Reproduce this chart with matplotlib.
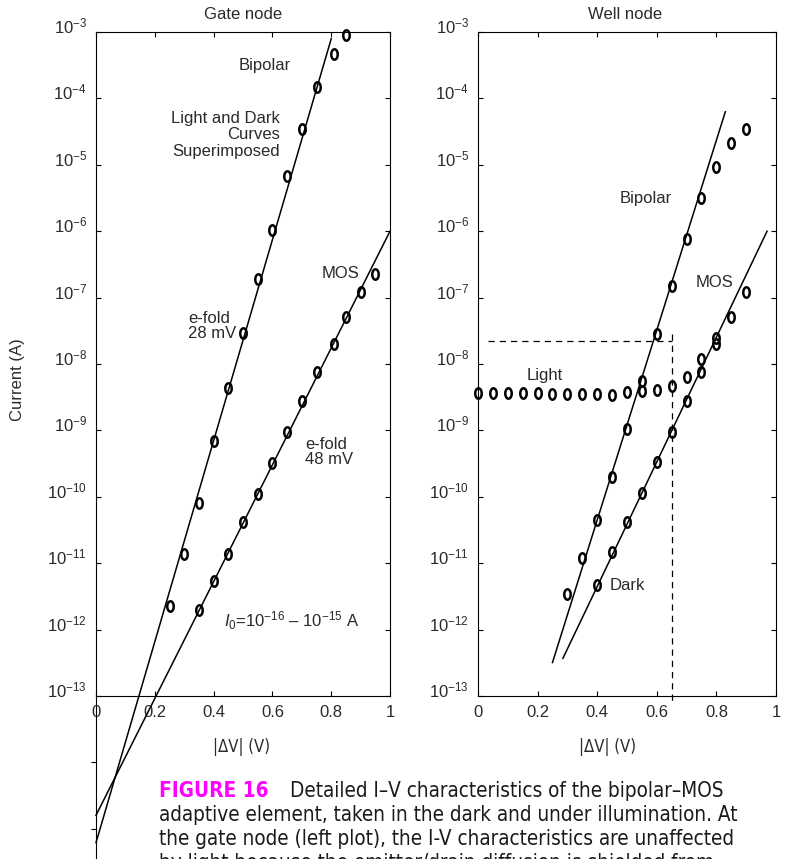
import numpy as np
import matplotlib
matplotlib.use('Agg')
import matplotlib.pyplot as plt
from matplotlib.transforms import ScaledTranslation

plt.rcParams['font.family'] = ['Liberation Sans', 'DejaVu Sans']
plt.rcParams['mathtext.fontset'] = 'custom'
plt.rcParams['mathtext.rm'] = 'Liberation Sans'
plt.rcParams['mathtext.it'] = 'Liberation Sans:italic'
plt.rcParams['mathtext.default'] = 'regular'

# Gate node (light and dark superimposed)
gate_bip_v = [0.25, 0.30, 0.35, 0.40, 0.45, 0.50, 0.55, 0.60, 0.65, 0.70, 0.75, 0.81, 0.85]
gate_bip_i = [2.3e-12, 1.4e-11, 8.1e-11, 6.9e-10, 4.4e-9, 2.9e-8, 1.9e-7, 1.05e-6,
              6.8e-6, 3.5e-5, 1.5e-4, 4.7e-4, 8.9e-4]
gate_mos_v = [0.35, 0.40, 0.45, 0.50, 0.55, 0.60, 0.65, 0.70, 0.75, 0.81, 0.85, 0.90, 0.95]
gate_mos_i = [2.0e-12, 5.4e-12, 1.4e-11, 4.2e-11, 1.1e-10, 3.2e-10, 9.5e-10, 2.8e-9,
              7.6e-9, 2.0e-8, 5.1e-8, 1.2e-7, 2.3e-7]
gate_bip_fit_v = [0.0, 0.80]
gate_bip_fit_i = [6.2e-16, 7.9e-4]
gate_mos_fit_v = [0.0, 1.0]
gate_mos_fit_i = [1.6e-15, 1.0e-6]

# Well node
well_bip_v = [0.30, 0.35, 0.40, 0.45, 0.50, 0.55, 0.60, 0.65, 0.70, 0.75, 0.80, 0.85, 0.90]
well_bip_i = [3.5e-12, 1.2e-11, 4.5e-11, 2.0e-10, 1.05e-9, 5.5e-9, 2.8e-8, 1.5e-7,
              7.6e-7, 3.2e-6, 9.3e-6, 2.1e-5, 3.5e-5]
well_mos_v = [0.40, 0.45, 0.50, 0.55, 0.60, 0.65, 0.70, 0.75, 0.80, 0.85, 0.90]
well_mos_i = [4.7e-12, 1.5e-11, 4.2e-11, 1.15e-10, 3.4e-10, 9.5e-10, 2.8e-9, 7.6e-9,
              2.0e-8, 5.2e-8, 1.2e-7]
well_light_v = [0.0, 0.05, 0.10, 0.15, 0.20, 0.25, 0.30, 0.35, 0.40, 0.45, 0.50, 0.55,
                0.60, 0.65, 0.70, 0.75, 0.80]
well_light_i = [3.7e-9, 3.7e-9, 3.7e-9, 3.7e-9, 3.7e-9, 3.5e-9, 3.5e-9, 3.6e-9, 3.5e-9,
                3.4e-9, 3.8e-9, 3.9e-9, 4.0e-9, 4.6e-9, 6.3e-9, 1.2e-8, 2.5e-8]
well_bip_fit_v = [0.25, 0.83]
well_bip_fit_i = [3.2e-13, 6.3e-5]
well_mos_fit_v = [0.285, 0.97]
well_mos_fit_i = [3.7e-13, 1.0e-6]
guide_v = 0.65
guide_i = 2.2e-8

decades = [10.0 ** k for k in range(-13, -2)]
decade_labels = [r'$10^{%d}$' % k for k in range(-13, -2)]
xticks = [0, 0.2, 0.4, 0.6, 0.8, 1]
xticklabels = ['0', '0.2', '0.4', '0.6', '0.8', '1']

txt = '#2a2a2a'
fs = 12
th = np.linspace(0, 2 * np.pi, 40)
oval = np.column_stack([0.62 * np.cos(th), np.sin(th)])
mk = dict(marker=oval, ms=7.5, mfc='none', mec='k', mew=1.8, ls='none', clip_on=False)

fig = plt.figure(figsize=(7.89, 8.59), dpi=100)
axL = fig.add_axes([0.1217, 0.1897, 0.3726, 0.773])
axR = fig.add_axes([0.6058, 0.1897, 0.3777, 0.773])
up = ScaledTranslation(0, 0.07, fig.dpi_scale_trans)

for ax in (axL, axR):
    ax.set_yscale('log')
    ax.set_xlim(0, 1)
    ax.set_ylim(1e-13, 1e-3)
    ax.set_yticks(decades)
    ax.set_yticklabels(decade_labels)
    ax.minorticks_off()
    ax.set_xticks(xticks)
    ax.set_xticklabels(xticklabels)
    ax.tick_params(direction='in', length=3.6, width=0.8, top=True, right=True,
                   labelsize=fs, labelcolor=txt)
    ax.tick_params(axis='y', pad=6.5)
    ax.tick_params(axis='x', pad=6.5)
    for lab in ax.get_yticklabels():
        lab.set_transform(lab.get_transform() + up)
    for s in ax.spines.values():
        s.set_linewidth(0.8)

# left plot
axL.plot(gate_bip_fit_v, gate_bip_fit_i, color='k', lw=1.1, clip_on=False)
axL.plot(gate_mos_fit_v, gate_mos_fit_i, color='k', lw=1.1, clip_on=False)
axL.plot(gate_bip_v, gate_bip_i, **mk)
axL.plot(gate_mos_v, gate_mos_i, **mk)
# left spine runs on below the plot
axL.plot([0, 0], [1e-13, 10 ** -15.5], color='k', lw=0.8, clip_on=False)
axL.plot([0, 0], [1e-14, 1e-15], ls='none', marker=0, ms=3.6, mew=0.8, color='k', clip_on=False)

axL.text(0.5, 1.026, 'Gate node', transform=axL.transAxes, ha='center', va='center', fontsize=fs, color=txt)
axL.text(0.575, 0.949, 'Bipolar', transform=axL.transAxes, ha='center', va='center', fontsize=fs, color=txt)
axL.text(0.626, 0.845, 'Light and Dark\nCurves\nSuperimposed', transform=axL.transAxes,
         ha='right', va='center', multialignment='right', linespacing=1.12, fontsize=fs, color=txt)
axL.text(0.83, 0.636, 'MOS', transform=axL.transAxes, ha='center', va='center', fontsize=fs, color=txt)
axL.text(0.313, 0.557, 'e-fold\n28 mV', transform=axL.transAxes, ha='left', va='center',
         linespacing=0.98, fontsize=fs, color=txt)
axL.text(0.711, 0.367, 'e-fold\n48 mV', transform=axL.transAxes, ha='left', va='center',
         linespacing=0.98, fontsize=fs, color=txt)
axL.text(0.435, 0.113, r'$\mathit{I}_0$=10$^{-16}$ – 10$^{-15}$ A', transform=axL.transAxes,
         ha='left', va='center', fontsize=fs, color=txt)

# right plot
axR.plot(well_bip_fit_v, well_bip_fit_i, color='k', lw=1.1)
axR.plot(well_mos_fit_v, well_mos_fit_i, color='k', lw=1.1)
axR.plot(well_bip_v, well_bip_i, **mk)
axR.plot(well_mos_v, well_mos_i, **mk)
axR.plot(well_light_v, well_light_i, **mk)
axR.plot([0.035, guide_v], [guide_i, guide_i], color='k', lw=0.9, ls=(0, (5, 4)))
axR.plot([guide_v, guide_v], [2.8e-8, 10 ** -13.1], color='k', lw=0.9, ls=(0, (5, 4)), clip_on=False)

axR.text(0.493, 1.026, 'Well node', transform=axR.transAxes, ha='center', va='center', fontsize=fs, color=txt)
axR.text(0.564, 0.75, 'Bipolar', transform=axR.transAxes, ha='center', va='center', fontsize=fs, color=txt)
axR.text(0.795, 0.623, 'MOS', transform=axR.transAxes, ha='center', va='center', fontsize=fs, color=txt)
axR.text(0.225, 0.483, 'Light', transform=axR.transAxes, ha='center', va='center', fontsize=fs, color=txt)
axR.text(0.5, 0.167, 'Dark', transform=axR.transAxes, ha='center', va='center', fontsize=fs, color=txt)

fig.text(18 / 789, 1 - 380 / 859, 'Current (A)', rotation=90, ha='center', va='center', fontsize=fs, color=txt)
cond = dict(family='DejaVu Sans', fontstretch='condensed')
fig.text(242 / 789, 1 - 747 / 859, '|ΔV| (V)', ha='center', va='center', fontsize=fs, color=txt, **cond)
fig.text(608 / 789, 1 - 747 / 859, '|ΔV| (V)', ha='center', va='center', fontsize=fs, color=txt, **cond)

# caption
cap = dict(fontsize=14.9, color='#1a1a1a', ha='left', va='baseline', **cond)
fig.text(159 / 789, 1 - 797 / 859, 'FIGURE 16', **{**cap, 'color': '#ff00ff', 'fontweight': 'bold'})
fig.text(290 / 789, 1 - 797 / 859, 'Detailed I–V characteristics of the bipolar–MOS', **cap)
fig.text(159 / 789, 1 - 821 / 859, 'adaptive element, taken in the dark and under illumination. At', **cap)
fig.text(159 / 789, 1 - 845 / 859, 'the gate node (left plot), the I-V characteristics are unaffected', **cap)
fig.text(159 / 789, 1 - 869 / 859, 'by light because the emitter/drain diffusion is shielded from', **cap)

fig.savefig('out.png', dpi=100)
